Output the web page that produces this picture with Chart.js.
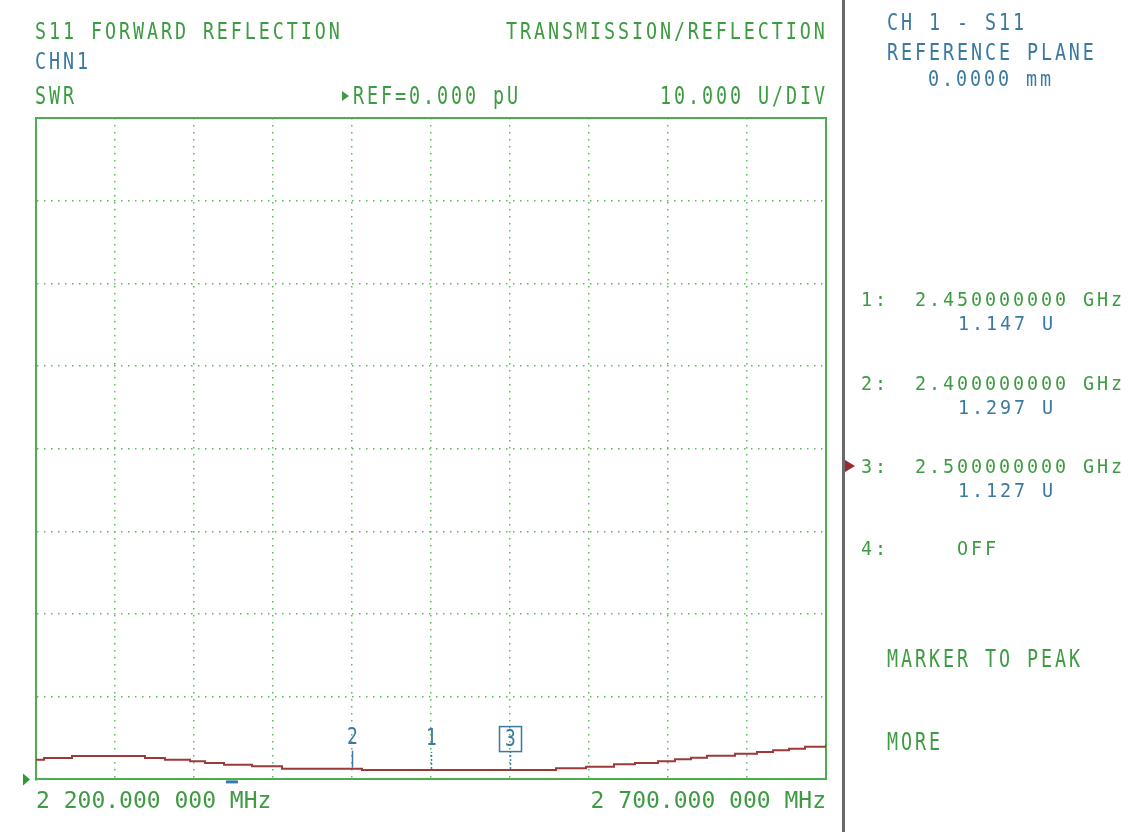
<!DOCTYPE html>
<html>
<head>
<meta charset="utf-8">
<script src="https://cdn.jsdelivr.net/npm/chart.js@4/dist/chart.umd.min.js"></script>
<style>
html,body{margin:0;padding:0;background:#ffffff;width:1131px;height:832px;overflow:hidden}
#wrap{position:relative;width:1131px;height:832px}
#c{position:absolute;left:0;top:0}
.t{position:absolute;white-space:pre;font-family:"DejaVu Sans Mono",monospace;transform-origin:0 0}
.sep{position:absolute;left:842px;top:0;width:3px;height:832px;background:#6a6a6a}
.tri{position:absolute;width:0;height:0;border-top:6px solid transparent;border-bottom:6px solid transparent}
</style>
</head>
<body>
<div id="wrap"><canvas id="c" width="1131" height="832"></canvas><div class="sep"></div></div>
<script>
// ---- data ----
const freqMHz = [2200, 2205.1, 2222.8, 2269.0, 2281.6, 2297.5, 2307.0, 2319.0, 2336.7, 2355.7,
                 2406.3, 2529.1, 2548.1, 2565.8, 2579.1, 2593.7, 2604.4, 2614.6, 2624.7, 2642.4,
                 2656.3, 2666.5, 2676.6, 2686.7, 2700];
const swrU    = [2.38, 2.59, 2.83, 2.59, 2.38, 2.19, 1.99, 1.78, 1.59, 1.30,
                 1.13, 1.34, 1.54, 1.83, 1.99, 2.19, 2.43, 2.63, 2.87, 3.11,
                 3.32, 3.52, 3.72, 3.96, 4.25];
const markerNums    = [1, 2, 3];
const markerFreqMHz = [2450, 2400, 2500];
const markerSWR     = [1.147, 1.297, 1.127];
const activeMarker  = 3;
const xMin = 2200, xMax = 2700, xStep = 50;
const yMin = 0, yMax = 80, yStep = 10;
const xTickLabels = ['2 200.000 000 MHz', '2 700.000 000 MHz'];
const refValue = 0;
const stimulusMarkMHz = 2324;

const GREEN = '#3d9b41';
const GRID = '#5cb85c';
const FRAME = '#4cae4f';
const BLUE = '#3a7aa2';
const TRACE = '#9c3a3a';
const DARKRED = '#9b2a2a';

const wrap = document.getElementById('wrap');
function put(str, x, cy, cap, color){
  const F = cap/0.729;
  const s = 18.4/F;
  const ls = 14/s - 0.602*F;
  const d = document.createElement('div');
  d.className = 't';
  d.textContent = str;
  d.style.left = (x - 0.055*F*s) + 'px';
  d.style.top = (cy - 0.4815*F) + 'px';
  d.style.fontSize = F + 'px';
  d.style.lineHeight = F + 'px';
  d.style.letterSpacing = ls + 'px';
  d.style.color = color;
  d.style.transform = 'scaleX(' + s + ')';
  wrap.appendChild(d);
}
function tri(x, cy, w, h, color){
  const d = document.createElement('div');
  d.className = 'tri';
  d.style.left = x + 'px';
  d.style.top = (cy - h/2) + 'px';
  d.style.borderTopWidth = (h/2) + 'px';
  d.style.borderBottomWidth = (h/2) + 'px';
  d.style.borderLeft = w + 'px solid ' + color;
  wrap.appendChild(d);
}

// header
put('S11 FORWARD REFLECTION', 36, 30.5, 17, GREEN);
put('TRANSMISSION/REFLECTION', 507, 30.5, 17, GREEN);
put('CHN1', 36, 60.5, 17, BLUE);
put('SWR', 36, 96, 17.5, GREEN);
tri(342, 96, 7, 11, GREEN);
put('REF=0.000 pU', 354, 96, 17.5, GREEN);
put('10.000 U/DIV', 661, 96, 17.5, GREEN);
// right panel
put('CH 1 - S11', 888, 21.5, 17, BLUE);
put('REFERENCE PLANE', 888, 51.5, 17, BLUE);
put('0.0000 mm', 929, 79, 16, BLUE);
const rowY = [300, 383.5, 466.5];
markerNums.forEach((n, i) => {
  put(n + ':', 862, rowY[i], 14.5, GREEN);
  put((markerFreqMHz[i]/1000).toFixed(9) + ' GHz', 916, rowY[i], 14.5, GREEN);
  put(markerSWR[i].toFixed(3) + ' U', 959, rowY[i] + 24, 14.5, BLUE);
  if (n === activeMarker) tri(845, rowY[i], 10, 13, DARKRED);
});
put('4:', 862, 548.5, 14.5, GREEN);
put('OFF', 958, 548.5, 14.5, GREEN);
put('MARKER TO PEAK', 888, 659, 18, GREEN);
put('MORE', 888, 742, 18, GREEN);

// ---- chart ----
const overlay = {
  id: 'overlay',
  afterDatasetsDraw(chart){
    const ctx = chart.ctx;
    const x = chart.scales.x, y = chart.scales.y;
    ctx.save();
    markerNums.forEach((n, i) => {
      const px = Math.round(x.getPixelForValue(markerFreqMHz[i])) + 0.5;
      const py = y.getPixelForValue(markerSWR[i]);
      const cy = py - 31;
      ctx.strokeStyle = BLUE;
      ctx.lineWidth = 1.5;
      ctx.setLineDash(n === 2 ? [] : [2, 2]);
      ctx.beginPath();
      ctx.moveTo(px, py - 1);
      ctx.lineTo(px, py - 18);
      ctx.stroke();
      ctx.setLineDash([]);
      ctx.save();
      ctx.translate(px, cy);
      ctx.scale(0.78, 1);
      ctx.font = '23px "DejaVu Sans Mono"';
      ctx.textAlign = 'center';
      ctx.textBaseline = 'middle';
      ctx.fillStyle = BLUE;
      ctx.fillText(String(n), 0, 0.5);
      ctx.restore();
      if (n === activeMarker) {
        ctx.lineWidth = 1.5;
        ctx.strokeRect(px - 11, cy - 12.5, 22, 25);
      }
    });
    // stimulus mark under axis
    const sx = x.getPixelForValue(stimulusMarkMHz);
    ctx.fillStyle = BLUE;
    ctx.fillRect(sx - 6, y.getPixelForValue(yMin) + 1, 12, 3);
    // reference position triangle
    const ry = y.getPixelForValue(refValue);
    ctx.fillStyle = '#2f9a33';
    ctx.beginPath();
    ctx.moveTo(23, ry - 6);
    ctx.lineTo(30, ry);
    ctx.lineTo(23, ry + 6);
    ctx.closePath();
    ctx.fill();
    ctx.restore();
  }
};

const edge = (lo, hi) => c => (c.tick && (c.tick.value === lo || c.tick.value === hi)) ? 'rgba(0,0,0,0)' : GRID;

new Chart(document.getElementById('c'), {
  type: 'line',
  data: {
    datasets: [{
      data: freqMHz.map((f, i) => ({x: f, y: swrU[i]})),
      borderColor: TRACE,
      borderWidth: 2,
      pointRadius: 0,
      stepped: 'before',
      fill: false
    }]
  },
  options: {
    responsive: false,
    animation: false,
    events: [],
    layout: {padding: {left: 36, right: 305, top: 118, bottom: 7}},
    plugins: {legend: {display: false}, tooltip: {enabled: false}, title: {display: false}},
    scales: {
      x: {
        type: 'linear', position: 'bottom', min: xMin, max: xMax,
        grid: {color: edge(xMin, xMax), lineWidth: 1.5, drawTicks: false},
        border: {display: true, color: FRAME, width: 2, dash: [1.5, 5.5]},
        ticks: {
          stepSize: xStep, autoSkip: false, maxRotation: 0, align: 'inner', padding: 9,
          color: GREEN, font: {family: '"DejaVu Sans Mono"', size: 23},
          callback: v => v === xMin ? xTickLabels[0] : (v === xMax ? xTickLabels[1] : '')
        }
      },
      y: {
        type: 'linear', position: 'left', min: yMin, max: yMax,
        grid: {color: edge(yMin, yMax), lineWidth: 1.5, drawTicks: false},
        border: {display: true, color: FRAME, width: 2, dash: [1.5, 5.5]},
        ticks: {display: false, stepSize: yStep}
      },
      xTop: {
        type: 'linear', position: 'top', min: xMin, max: xMax,
        grid: {display: false, drawTicks: false},
        border: {display: true, color: FRAME, width: 2},
        ticks: {display: false}
      },
      yRight: {
        type: 'linear', position: 'right', min: yMin, max: yMax,
        grid: {display: false, drawTicks: false},
        border: {display: true, color: FRAME, width: 2},
        ticks: {display: false}
      }
    }
  },
  plugins: [overlay]
});
</script>
</body>
</html>
